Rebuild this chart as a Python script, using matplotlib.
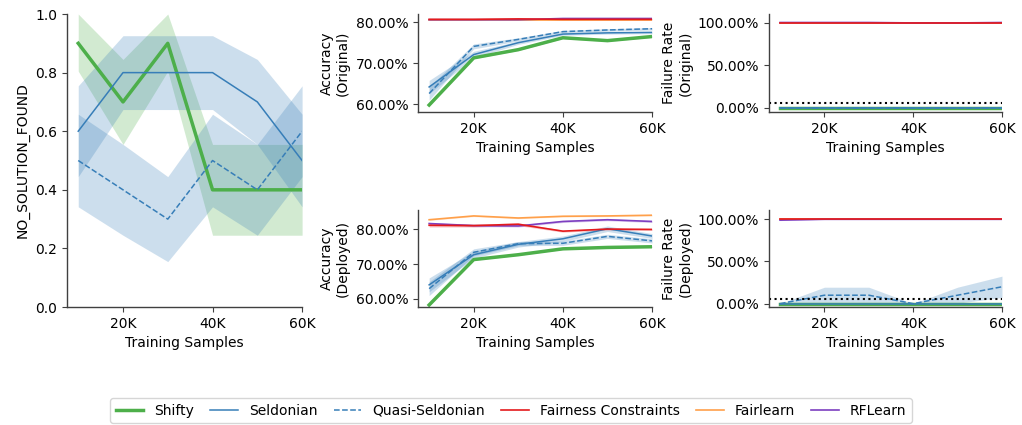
import matplotlib
matplotlib.use("Agg")
import matplotlib.pyplot as plt
from matplotlib.ticker import PercentFormatter, FixedLocator
import numpy as np

samples = [10000, 20000, 30000, 40000, 50000, 60000]
methods = ["Shifty", "Seldonian", "Quasi-Seldonian", "Fairness Constraints", "Fairlearn", "RFLearn"]

# NO_SOLUTION_FOUND rate (fraction)
nsf = {
    "Shifty":          [0.9, 0.7, 0.9, 0.4, 0.4, 0.4],
    "Seldonian":       [0.6, 0.8, 0.8, 0.8, 0.7, 0.5],
    "Quasi-Seldonian": [0.5, 0.4, 0.3, 0.5, 0.4, 0.6],
}
nsf_lo = {
    "Shifty":          [0.805, 0.555, 0.805, 0.245, 0.245, 0.245],
    "Seldonian":       [0.445, 0.674, 0.674, 0.674, 0.555, 0.342],
    "Quasi-Seldonian": [0.342, 0.245, 0.155, 0.342, 0.245, 0.445],
}
nsf_hi = {
    "Shifty":          [1.0, 0.845, 1.0, 0.555, 0.555, 0.555],
    "Seldonian":       [0.755, 0.926, 0.926, 0.926, 0.845, 0.658],
    "Quasi-Seldonian": [0.658, 0.555, 0.445, 0.658, 0.555, 0.755],
}

# Accuracy (Original), percent
acc_orig = {
    "Shifty":               [59.8, 71.3, 73.3, 76.2, 75.5, 76.5],
    "Seldonian":            [64.2, 72.1, 75.0, 77.1, 77.4, 77.5],
    "Quasi-Seldonian":      [62.6, 74.1, 75.8, 77.7, 78.1, 78.4],
    "Fairness Constraints": [80.7, 80.7, 80.8, 80.7, 80.7, 80.7],
    "Fairlearn":            [80.5, 80.5, 80.5, 80.5, 80.5, 80.5],
    "RFLearn":              [80.6, 80.6, 80.6, 80.9, 80.9, 80.9],
}
acc_orig_err = {
    "Shifty":               [0.3, 0.2, 0.2, 0.2, 0.2, 0.2],
    "Seldonian":            [1.6, 0.8, 0.4, 0.3, 0.3, 0.3],
    "Quasi-Seldonian":      [1.6, 0.6, 0.4, 0.3, 0.3, 0.3],
    "Fairness Constraints": [0.2, 0.2, 0.2, 0.2, 0.2, 0.2],
    "Fairlearn":            [0.1, 0.1, 0.1, 0.1, 0.1, 0.1],
    "RFLearn":              [0.1, 0.1, 0.1, 0.1, 0.1, 0.1],
}

# Accuracy (Deployed), percent
acc_dep = {
    "Shifty":               [58.2, 71.3, 72.7, 74.4, 74.8, 75.0],
    "Seldonian":            [64.0, 72.7, 75.7, 77.3, 80.2, 78.1],
    "Quasi-Seldonian":      [62.9, 73.4, 75.9, 76.0, 78.0, 76.7],
    "Fairness Constraints": [81.2, 81.1, 81.5, 79.5, 80.1, 80.0],
    "Fairlearn":            [82.8, 83.9, 83.3, 83.8, 83.9, 84.1],
    "RFLearn":              [81.7, 81.1, 81.0, 82.3, 82.8, 82.3],
}
acc_dep_err = {
    "Shifty":               [0.3, 0.2, 0.2, 0.2, 0.2, 0.2],
    "Seldonian":            [2.0, 1.0, 0.8, 0.8, 0.8, 0.7],
    "Quasi-Seldonian":      [2.0, 1.0, 0.6, 0.6, 0.6, 0.6],
    "Fairness Constraints": [0.5, 0.4, 0.4, 0.3, 0.3, 0.3],
    "Fairlearn":            [0.2, 0.2, 0.2, 0.2, 0.2, 0.2],
    "RFLearn":              [0.3, 0.3, 0.3, 0.3, 0.3, 0.3],
}

# Failure rate (Original), percent
fail_orig = {
    "Shifty":               [0, 0, 0, 0, 0, 0],
    "Seldonian":            [0, 0, 0, 0, 0, 0],
    "Quasi-Seldonian":      [0, 0, 0, 0, 0, 0],
    "Fairness Constraints": [100, 100, 100, 100, 100, 100],
    "Fairlearn":            [100, 100, 100, 100, 100, 100],
    "RFLearn":              [100, 100, 100, 99.5, 99.5, 100],
}
fail_orig_lo = {
    "Shifty":               [0, 0, 0, 0, 0, 0],
    "Seldonian":            [0, 0, 0, 0, 0, 0],
    "Quasi-Seldonian":      [0, 0, 0, 0, 0, 0],
    "Fairness Constraints": [100, 100, 100, 100, 100, 100],
    "Fairlearn":            [100, 100, 100, 100, 100, 100],
    "RFLearn":              [100, 100, 100, 99, 99, 100],
}
fail_orig_hi = {
    "Shifty":               [0, 0, 0, 0, 0, 0],
    "Seldonian":            [0, 0, 0, 0, 0, 0],
    "Quasi-Seldonian":      [0, 0, 0, 0, 0, 0],
    "Fairness Constraints": [100, 100, 100, 100, 100, 100],
    "Fairlearn":            [100, 100, 100, 100, 100, 100],
    "RFLearn":              [100, 100, 100, 100, 100, 100],
}

# Failure rate (Deployed), percent
fail_dep = {
    "Shifty":               [0, 0, 0, 0, 0, 0],
    "Seldonian":            [0, 0, 0, 0, 0, 0],
    "Quasi-Seldonian":      [0, 10, 10, 0, 10, 20],
    "Fairness Constraints": [100, 100, 100, 100, 100, 100],
    "Fairlearn":            [100, 100, 100, 100, 100, 100],
    "RFLearn":              [99, 100, 100, 100, 100, 100],
}
fail_dep_lo = {
    "Shifty":               [0, 0, 0, 0, 0, 0],
    "Seldonian":            [0, 0, 0, 0, 0, 0],
    "Quasi-Seldonian":      [0, 0.5, 0.5, 0, 0.5, 7.4],
    "Fairness Constraints": [100, 100, 100, 100, 100, 100],
    "Fairlearn":            [100, 100, 100, 100, 100, 100],
    "RFLearn":              [98.5, 100, 100, 100, 100, 100],
}
fail_dep_hi = {
    "Shifty":               [0, 0, 0, 0, 0, 0],
    "Seldonian":            [0, 0, 0, 0, 0, 0],
    "Quasi-Seldonian":      [0, 19.5, 19.5, 0, 19.5, 32.6],
    "Fairness Constraints": [101, 100, 100.5, 100, 100.5, 100],
    "Fairlearn":            [100, 100, 100, 100, 100, 100],
    "RFLearn":              [99.5, 100, 100, 100, 100, 100],
}

threshold = 5.0

colors = {
    "Shifty": "#4daf4a",
    "Seldonian": "#377eb8",
    "Quasi-Seldonian": "#377eb8",
    "Fairness Constraints": "#e41a1c",
    "Fairlearn": "#ffa04a",
    "RFLearn": "#7d3fc0",
}
styles = {
    "Shifty": dict(lw=2.5, ls="-"),
    "Seldonian": dict(lw=1.1, ls="-"),
    "Quasi-Seldonian": dict(lw=1.1, ls="--"),
    "Fairness Constraints": dict(lw=1.2, ls="-"),
    "Fairlearn": dict(lw=1.2, ls="-"),
    "RFLearn": dict(lw=1.2, ls="-"),
}
draw_order = ["Shifty", "Seldonian", "Quasi-Seldonian", "Fairlearn", "RFLearn", "Fairness Constraints"]

plt.rcParams["font.family"] = "DejaVu Sans"
plt.rcParams["font.size"] = 10

fig = plt.figure(figsize=(10.22, 4.25), dpi=100)

ax_nsf = fig.add_axes([0.0656, 0.2776, 0.2300, 0.6894])
ax_ao = fig.add_axes([0.4090, 0.7365, 0.2290, 0.2306])
ax_ad = fig.add_axes([0.4090, 0.2776, 0.2290, 0.2282])
ax_fo = fig.add_axes([0.7524, 0.7365, 0.2280, 0.2306])
ax_fd = fig.add_axes([0.7524, 0.2776, 0.2280, 0.2282])

def style_ax(ax):
    for s in ["top", "right"]:
        ax.spines[s].set_visible(False)
    for s in ["left", "bottom"]:
        ax.spines[s].set_color("0.25")
        ax.spines[s].set_linewidth(1.0)
    ax.tick_params(colors="0.25", labelcolor="black", labelsize=10)
    ax.set_xlim(7500, 60000)
    ax.xaxis.set_major_locator(FixedLocator([20000, 40000, 60000]))
    ax.set_xticklabels(["20K", "40K", "60K"])
    ax.set_xlabel("Training Samples", fontsize=10)

handles = {}
# NO_SOLUTION_FOUND
for m in ["Shifty", "Seldonian", "Quasi-Seldonian"]:
    ax_nsf.fill_between(samples, nsf_lo[m], nsf_hi[m], color=colors[m], alpha=0.25, lw=0)
    ln, = ax_nsf.plot(samples, nsf[m], color=colors[m], **styles[m])
    handles[m] = ln
ax_nsf.set_ylim(0, 1)
ax_nsf.set_ylabel("NO_SOLUTION_FOUND", fontsize=10)
style_ax(ax_nsf)

def plot_acc(ax, data, err, ylabel, ylim):
    for m in draw_order:
        v = np.array(data[m]); e = np.array(err[m])
        ax.fill_between(samples, v - e, v + e, color=colors[m], alpha=0.25, lw=0)
        ln, = ax.plot(samples, v, color=colors[m], **styles[m])
        handles[m] = ln
    ax.set_ylim(*ylim)
    ax.yaxis.set_major_locator(FixedLocator([60, 70, 80]))
    ax.yaxis.set_major_formatter(PercentFormatter(xmax=100, decimals=2))
    ax.set_ylabel(ylabel, fontsize=10)
    style_ax(ax)

plot_acc(ax_ao, acc_orig, acc_orig_err, "Accuracy\n(Original)", (58.1, 82.0))
plot_acc(ax_ad, acc_dep, acc_dep_err, "Accuracy\n(Deployed)", (57.6, 85.6))

def plot_fail(ax, data, lo, hi, ylabel, ylim):
    for m in draw_order:
        ax.fill_between(samples, lo[m], hi[m], color=colors[m], alpha=0.25, lw=0)
        ax.plot(samples, data[m], color=colors[m], **styles[m])
    ax.axhline(threshold, color="black", ls=":", lw=1.5)
    ax.set_ylim(*ylim)
    ax.yaxis.set_major_locator(FixedLocator([0, 50, 100]))
    ax.yaxis.set_major_formatter(PercentFormatter(xmax=100, decimals=2))
    ax.set_ylabel(ylabel, fontsize=10)
    style_ax(ax)

plot_fail(ax_fo, fail_orig, fail_orig_lo, fail_orig_hi, "Failure Rate\n(Original)", (-5, 110))
plot_fail(ax_fd, fail_dep, fail_dep_lo, fail_dep_hi, "Failure Rate\n(Deployed)", (-4, 111))

fig.legend([handles[m] for m in methods], methods, loc="lower center",
           bbox_to_anchor=(0.5, -0.012), ncol=6, fontsize=10, frameon=True,
           edgecolor="0.8", fancybox=True, columnspacing=1.15)

fig.savefig("out.png", dpi=100)
